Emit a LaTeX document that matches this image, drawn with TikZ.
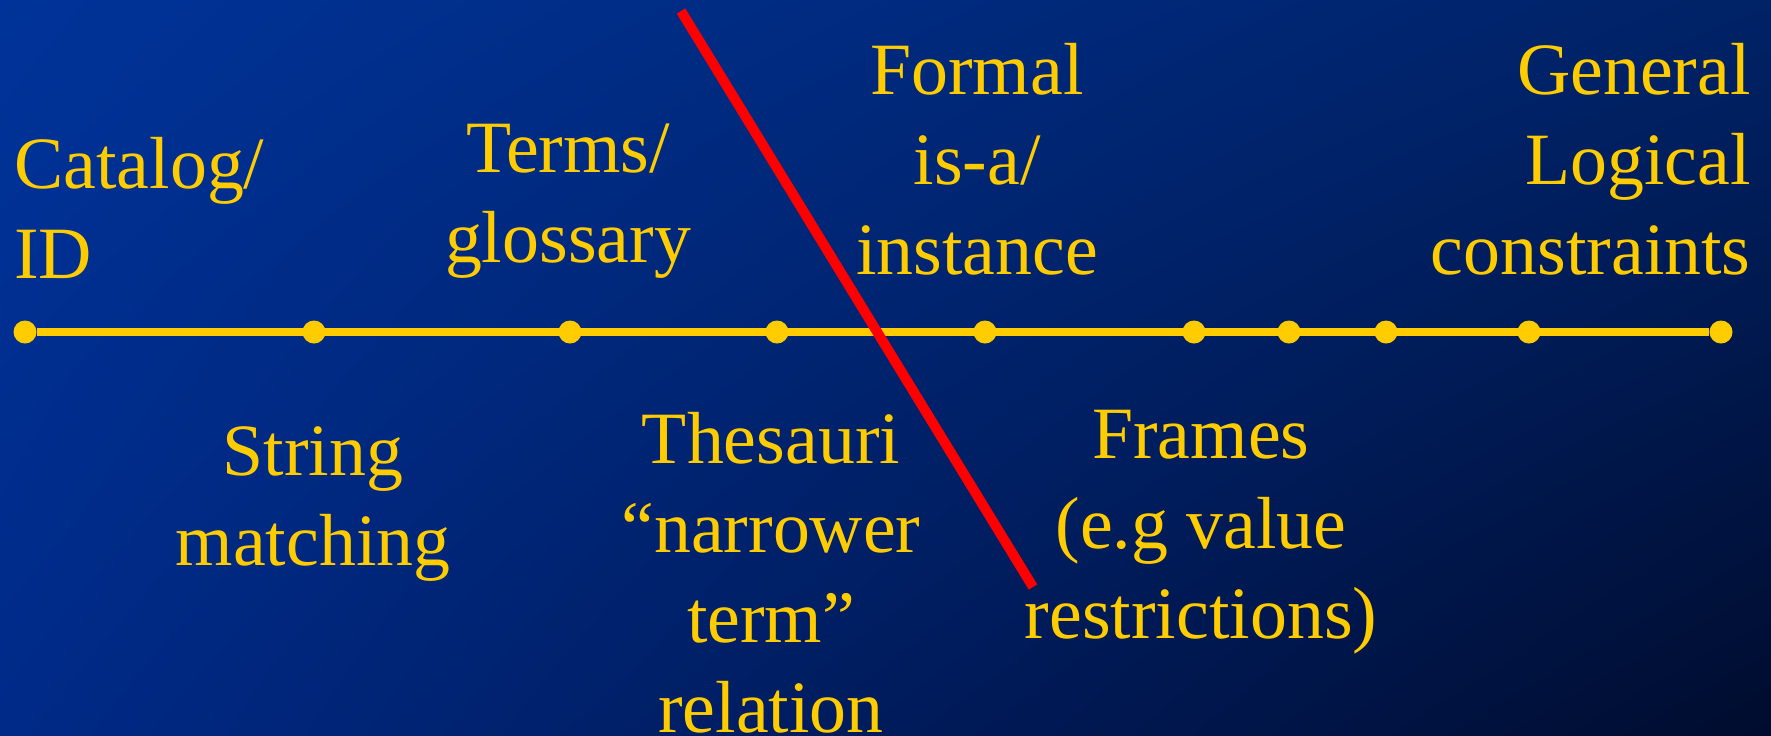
\documentclass[tikz,border=0pt]{standalone}
\usepackage{fontspec}
\setmainfont{Liberation Serif}
\usepackage{xcolor}
\usetikzlibrary{shadings}

\begin{document}
\begin{tikzpicture}[
  x=0.02cm, y=-0.02cm,
  label/.style={font=\fontsize{42}{51}\selectfont, text=slideYellow,
    inner sep=0pt, anchor=base},
  dot/.style={circle, fill=slideYellow, minimum size=0.46cm, inner sep=0pt},
  axis/.style={draw=slideYellow, line width=4pt},
  cut/.style={draw=slideRed, line width=5.7pt},
]
\definecolor{slideYellow}{HTML}{FFCC00}
\definecolor{slideRed}{HTML}{FF0000}
\definecolor{bgUL}{HTML}{003399}
\definecolor{bgUR}{HTML}{002266}
\definecolor{bgLL}{HTML}{002A88}
\definecolor{bgLR}{HTML}{000C2E}

% slide background
\shade[upper left=bgUL, upper right=bgUR, lower left=bgLL, lower right=bgLR]
  (0,0) rectangle (1771,735);
\useasboundingbox (0,0) rectangle (1771,735);

% the spectrum line
\foreach \x [count=\i] in {25,314,570,777,985,1194,1289,1386,1529,1721}
  \node[dot] (d\i) at (\x,332) {};
\draw[axis] (d1) -- (d10);

% labels above the line (anchored at the last baseline)
\node[label, anchor=base west, align=left] (catalog) at (14,278)
  {Catalog/\\ID};
\node[label, align=center] (terms) at (568,262) {Terms/\\glossary};
\node[label, align=center] (formal) at (977,274) {Formal\\is-a/\\instance};
\node[label, anchor=base east, align=right] (general) at (1751,274)
  {General\\Logical\\constraints};

% labels below the line
\node[label, align=center] (string) at (313,565) {String\\matching};
\node[label, align=center] (thesauri) at (771,732)
  {Thesauri\\“narrower\\term”\\relation};
\node[label, align=center] (frames) at (1201,638)
  {Frames\\(e.g value\\restrictions)};

% the dividing stroke
\coordinate (cutTop) at (681,11);
\coordinate (cutBot) at (1033,587);
\draw[cut] (cutTop) -- (cutBot);
\end{tikzpicture}
\end{document}
